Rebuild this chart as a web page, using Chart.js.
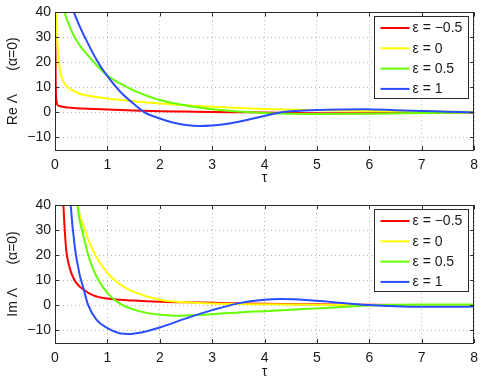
<!DOCTYPE html>
<html><head><meta charset="utf-8">
<script src="https://cdn.jsdelivr.net/npm/chart.js@4"></script>
<style>
html,body{margin:0;padding:0;background:#fff;width:485px;height:382px;overflow:hidden}
#c1{position:absolute;left:0;top:0}
#c2{position:absolute;left:0;top:190px}
</style></head><body>
<canvas id="c1" width="485" height="190"></canvas>
<canvas id="c2" width="485" height="192"></canvas>
<script>
// ---- ticks / labels ----
const xTicks = [0,1,2,3,4,5,6,7,8];
const yTicks = [-10,0,10,20,30,40];
const legendLabels = ['ε = −0.5','ε = 0','ε = 0.5','ε = 1'];
const seriesColors = ['#ff0000','#ffff00','#66ff00','#2a4dff'];

// ---- Re Λ (top) ----
const tauReM05 = [0.003,0.008,0.012,0.02,0.03,0.05,0.1,0.2,0.3,0.5,0.75,1,1.5,2,2.5,3,3.5,4,4.5,5,5.5,6,6.5,7,7.5,8];
const reM05    = [80,30,15,6.5,4.2,3.0,2.5,2.1,1.9,1.6,1.35,1.2,0.8,0.5,0.35,0.2,0.1,0,-0.2,-0.3,-0.35,-0.3,-0.2,-0.1,-0.05,0];
const tauRe0   = [0.015,0.025,0.04,0.06,0.1,0.15,0.2,0.3,0.5,0.75,1,1.5,2,2.5,3,3.5,4,5,6,7,8];
const re0      = [60,40,30,23.5,16.5,12.8,11,9.2,7.3,6.3,5.6,4.5,3.6,2.9,2.3,1.8,1.4,0.9,0.6,0.4,0.3];
const tauRe05  = [0.15,0.19,0.25,0.35,0.5,0.6,0.8,1,1.25,1.5,1.75,2,2.25,2.5,2.75,3,3.5,4,4.5,5,6,7,8];
const re05     = [48,40,36,31,26,23.5,18.8,14.8,11.5,8.8,6.7,5.0,3.8,2.8,2.0,1.3,0.4,-0.2,-0.5,-0.6,-0.5,-0.25,0];
const tauRe1   = [0.3,0.36,0.48,0.6,0.8,1,1.25,1.5,1.71,2,2.25,2.5,2.75,3,3.3,3.6,3.95,4.3,4.6,5,5.5,5.9,6.5,7,7.5,8];
const re1      = [43.5,40,34,28.8,20.8,14.5,8.2,3.5,0,-2.4,-4.0,-5.0,-5.4,-5.2,-4.5,-3.3,-1.6,0,0.6,1.0,1.2,1.25,0.9,0.6,0.3,0];

// ---- Im Λ (bottom) ----
const tauImM05 = [0.13,0.16,0.21,0.28,0.35,0.41,0.54,0.73,1,1.5,2,2.5,3,4,5,6,7,8];
const imM05    = [55,40,23,15,11,8.9,6.3,4.0,2.7,1.9,1.4,1.2,1.0,0.6,0.4,0.2,0.1,0];
const tauIm0   = [0.4,0.44,0.54,0.73,1,1.23,1.48,2,2.5,3,4,5,6,7,8];
const im0      = [52,40,32,21.6,12.9,8.5,5.6,2.2,1.2,0.7,0.4,0.2,0.1,0.05,0];
const tauIm05  = [0.4,0.43,0.54,0.66,0.79,1,1.23,1.48,1.75,2,2.25,2.5,3,3.5,4,5,6,7,8];
const im05     = [50,40,28,18.3,11.6,4.9,0.8,-1.5,-3.0,-3.7,-4.1,-4.0,-3.5,-2.8,-2.3,-1.2,-0.1,0.3,0.3];
const tauIm1   = [0.27,0.30,0.38,0.47,0.54,0.63,0.79,1,1.23,1.4,1.67,2,2.5,3,3.5,4,4.3,5,5.5,6,6.5,7,7.5,8];
const im1      = [52,40,22.9,12.3,7,0.3,-5.7,-9.1,-11.1,-11.4,-10.7,-8.8,-5.2,-1.9,0.8,2.2,2.5,1.8,0.9,0.1,-0.4,-0.6,-0.6,-0.5];

const FONT = "'Liberation Sans', Arial, Helvetica, sans-serif";
const AXIS_COLOR = '#2b2b2b';
const TEXT_COLOR = '#1a1a1a';

function pts(xs, ys){ return xs.map((x,i)=>({x:x, y:ys[i]})); }
function fmt(v){ return v < 0 ? '\u2212' + Math.abs(v) : String(v); }

const framePlugin = {
  id:'frame',
  afterDatasetsDraw(chart){
    const {ctx, chartArea:a, scales:{x, y}} = chart;
    ctx.save();
    ctx.strokeStyle = AXIS_COLOR; ctx.lineWidth = 1;
    ctx.beginPath();
    xTicks.forEach(v=>{
      const px = Math.round(x.getPixelForValue(v)) + 0.5;
      ctx.moveTo(px, a.bottom); ctx.lineTo(px, a.bottom - 4);
      ctx.moveTo(px, a.top); ctx.lineTo(px, a.top + 4);
    });
    yTicks.forEach(v=>{
      const py = Math.round(y.getPixelForValue(v)) + 0.5;
      ctx.moveTo(a.left, py); ctx.lineTo(a.left + 4, py);
      ctx.moveTo(a.right, py); ctx.lineTo(a.right - 4, py);
    });
    ctx.stroke();
    ctx.strokeRect(Math.round(a.left)+0.5, Math.round(a.top)+0.5, Math.round(a.right-a.left)-1, Math.round(a.bottom-a.top));
    ctx.restore();
  },
  afterDraw(chart){
    const {ctx, chartArea:a} = chart;
    const bx = Math.round(a.right) - 99.5, by = Math.round(a.top) + 4.5;
    const bw = 94, bh = 82;
    ctx.save();
    ctx.fillStyle = '#fff';
    ctx.fillRect(bx, by, bw, bh);
    ctx.strokeStyle = AXIS_COLOR; ctx.lineWidth = 1;
    ctx.strokeRect(bx, by, bw, bh);
    ctx.font = '14px ' + FONT;
    ctx.textBaseline = 'middle'; ctx.textAlign = 'left';
    chart.data.datasets.forEach((ds, i)=>{
      const ly = by + 11.5 + i * 20.3;
      ctx.strokeStyle = ds.borderColor; ctx.lineWidth = 2;
      ctx.beginPath(); ctx.moveTo(bx + 6, ly); ctx.lineTo(bx + 35, ly); ctx.stroke();
      ctx.fillStyle = TEXT_COLOR;
      ctx.fillText(ds.label, bx + 38, ly + 0.5);
    });
    ctx.restore();
  }
};

function makeChart(id, xsList, ysList, yTitle, padTop, xAxisH, xTitlePad){
  const datasets = xsList.map((xs, i)=>({
    label: legendLabels[i],
    data: pts(xs, ysList[i]),
    borderColor: seriesColors[i],
    backgroundColor: seriesColors[i],
    borderWidth: 2,
    pointRadius: 0,
    fill: false,
    cubicInterpolationMode: 'monotone',
    order: 3 - i
  }));
  return new Chart(document.getElementById(id), {
    type: 'line',
    data: { datasets },
    plugins: [framePlugin],
    options: {
      responsive: false,
      devicePixelRatio: 1,
      animation: false,
      events: [],
      layout: { padding: { top: padTop, right: 8, bottom: 0, left: 0 } },
      plugins: { legend: { display: false }, tooltip: { enabled: false } },
      scales: {
        x: {
          type: 'linear', min: 0, max: 8,
          afterBuildTicks: s => { s.ticks = xTicks.map(v=>({value:v})); },
          afterFit: s => { s.height = xAxisH; },
          grid: { color: '#b4b4b4', lineWidth: 1, drawTicks: false },
          border: { display: false, dash: [1, 3] },
          ticks: { padding: 7, color: TEXT_COLOR, font: { family: FONT, size: 14 }, maxRotation: 0, callback: v => fmt(v) },
          title: { display: true, text: 'τ', color: TEXT_COLOR, font: { family: FONT, size: 14 }, padding: { top: 0, bottom: xTitlePad } }
        },
        y: {
          type: 'linear', min: -15, max: 40,
          afterBuildTicks: s => { s.ticks = yTicks.map(v=>({value:v})); },
          afterFit: s => { s.width = 55; },
          grid: { color: '#b4b4b4', lineWidth: 1, drawTicks: false },
          border: { display: false, dash: [1, 3] },
          ticks: { padding: 4, color: TEXT_COLOR, font: { family: FONT, size: 14 }, callback: v => fmt(v) },
          title: { display: true, text: yTitle, color: TEXT_COLOR, font: { family: FONT, size: 14 }, padding: { top: 5, bottom: 0 } }
        }
      }
    }
  });
}

makeChart('c1', [tauReM05, tauRe0, tauRe05, tauRe1], [reM05, re0, re05, re1], 'Re Λ      (α=0)', 12, 40, 3.5);
makeChart('c2', [tauImM05, tauIm0, tauIm05, tauIm1], [imM05, im0, im05, im1], 'Im Λ      (α=0)', 15, 39, 1.5);
</script>
</body></html>
